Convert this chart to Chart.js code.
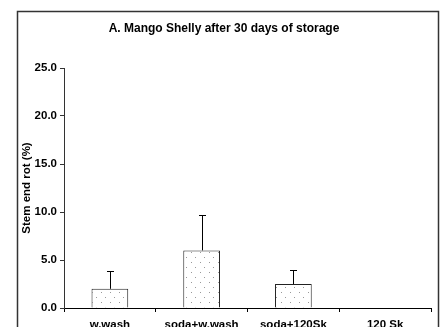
<!DOCTYPE html>
<html>
<head>
<meta charset="utf-8">
<script src="https://cdn.jsdelivr.net/npm/chart.js@4.4.1/dist/chart.umd.min.js"></script>
<style>
  html, body { margin: 0; padding: 0; background: #fff; }
  canvas { display: block; }
</style>
</head>
<body>
<canvas id="c" width="442" height="327"></canvas>
<script>
const chartTitle = 'A. Mango Shelly after 30 days of storage';
const yAxisTitle = 'Stem end rot (%)';
const categories = ['w.wash', 'soda+w.wash', 'soda+120Sk', '120 Sk'];
const meanValues = [2.0, 6.0, 2.5, 0.0];
const errorValues = [1.9, 3.7, 1.5, 0.0];
const yTickValues = [0, 5, 10, 15, 20, 25];

const FONT = '"Liberation Sans", Arial, sans-serif';

function makeDotPattern() {
  const c = document.createElement('canvas');
  c.width = 9; c.height = 10;
  const g = c.getContext('2d');
  g.fillStyle = '#ffffff';
  g.fillRect(0, 0, 9, 10);
  g.fillStyle = '#999999';
  g.fillRect(2, 2, 1, 1);
  g.fillRect(6, 7, 1, 1);
  return document.getElementById('c').getContext('2d').createPattern(c, 'repeat');
}

const frame = {
  id: 'frame',
  beforeDraw(chart) {
    const ctx = chart.ctx;
    ctx.save();
    ctx.fillStyle = '#fff';
    ctx.fillRect(0, 0, chart.width, chart.height);
    ctx.strokeStyle = '#333';
    ctx.lineWidth = 1.5;
    ctx.strokeRect(17.5, 11.5, 421, 340);
    ctx.restore();
  }
};

const errorBars = {
  id: 'errorBars',
  afterDatasetsDraw(chart) {
    const ctx = chart.ctx;
    const yScale = chart.scales.y;
    const meta = chart.getDatasetMeta(0);
    ctx.save();
    ctx.strokeStyle = '#000';
    ctx.lineWidth = 1;
    meta.data.forEach((bar, i) => {
      const err = errorValues[i];
      if (!err) return;
      const x = Math.round(bar.x) + 0.5;
      const yTop = yScale.getPixelForValue(meanValues[i]);
      const yErr = Math.round(yScale.getPixelForValue(meanValues[i] + err)) + 0.5;
      ctx.beginPath();
      ctx.moveTo(x, yTop);
      ctx.lineTo(x, yErr);
      ctx.moveTo(x - 3.5, yErr);
      ctx.lineTo(x + 3.5, yErr);
      ctx.stroke();
    });
    ctx.restore();
  }
};

new Chart(document.getElementById('c'), {
  type: 'bar',
  data: {
    labels: categories,
    datasets: [{
      data: meanValues,
      backgroundColor: makeDotPattern(),
      borderColor: '#222',
      borderWidth: 1,
      categoryPercentage: 1.0,
      barPercentage: 0.4
    }]
  },
  options: {
    responsive: false,
    animation: false,
    devicePixelRatio: 1,
    layout: { padding: { left: 17, right: 11, top: 11, bottom: 0 } },
    plugins: {
      legend: { display: false },
      tooltip: { enabled: false },
      title: {
        display: true,
        text: chartTitle,
        color: '#000',
        font: { family: FONT, size: 12, weight: 'bold' },
        padding: { top: 10, bottom: 32.6 }
      }
    },
    scales: {
      x: {
        grid: { display: true, drawOnChartArea: false, offset: true, color: '#000', tickLength: 4 },
        border: { display: true, color: '#000', width: 1 },
        ticks: { color: '#000', padding: 6, maxRotation: 0, autoSkip: false,
                 font: { family: FONT, size: 11.5, weight: 'bold' } },
        afterFit(scale) { scale.height = 19; }
      },
      y: {
        min: 0,
        max: 25,
        afterBuildTicks(scale) { scale.ticks = yTickValues.map(v => ({ value: v })); },
        grid: { display: true, drawOnChartArea: false, color: '#333', tickLength: 4 },
        border: { display: true, color: '#333', width: 1 },
        ticks: { color: '#000', padding: 3,
                 font: { family: FONT, size: 11.5, weight: 'bold' },
                 callback: v => Number(v).toFixed(1) },
        title: {
          display: true,
          text: yAxisTitle,
          color: '#000',
          font: { family: FONT, size: 11.5, weight: 'bold' },
          padding: { top: 3, bottom: 0 }
        },
        afterFit(scale) { scale.width = 47; }
      }
    }
  },
  plugins: [frame, errorBars]
});
</script>
</body>
</html>
